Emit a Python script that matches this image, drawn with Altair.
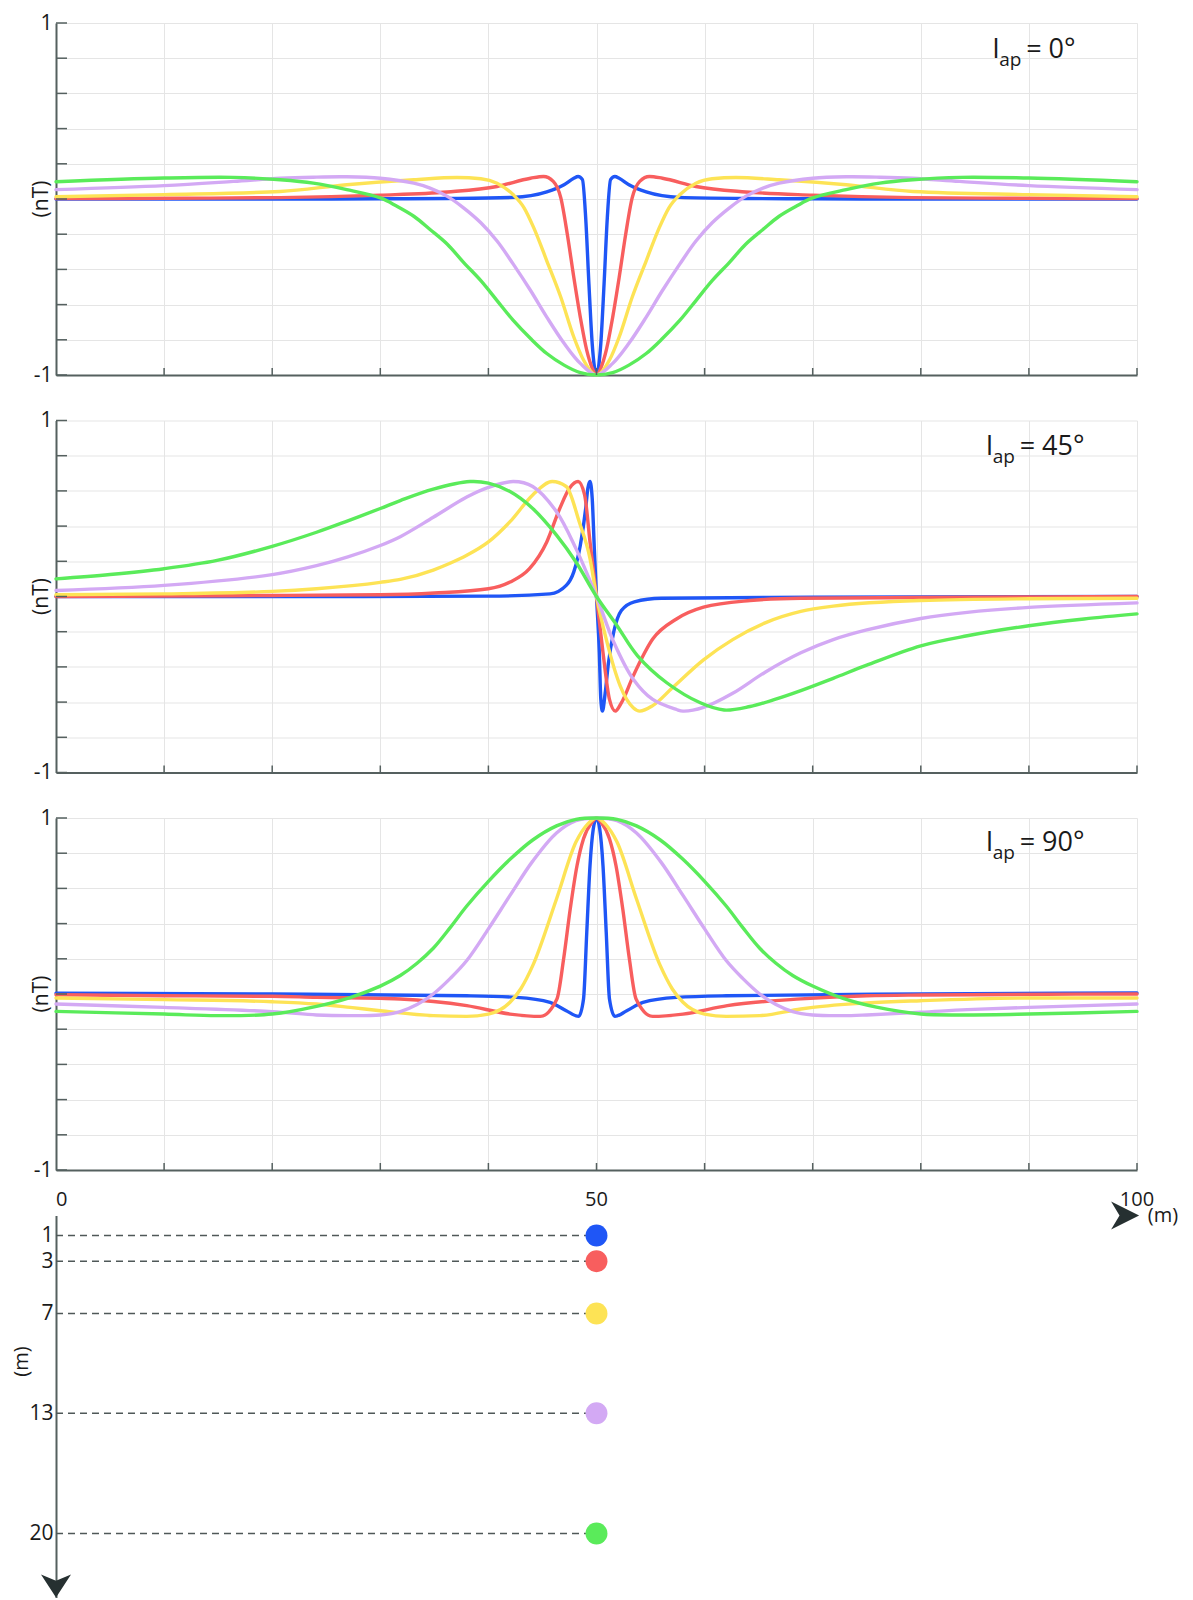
import altair as alt
import pandas as pd

FONT = "Open Sans"
DEPTHS = [1, 3, 7, 13, 20]
DEPTH_LABELS = ["1", "3", "7", "13", "20"]
COLORS = ["#1f56f6", "#f85e5e", "#fde355", "#d3a9f4", "#5aeb5a"]
CURVE_INTERP = ["monotone", "monotone", "monotone", "catmull-rom", "catmull-rom"]
INCLINATION_LABELS = ["0°", "45°", "90°"]
X_GRID = [0, 10, 20, 30, 40, 50, 60, 70, 80, 90, 100]
X_TICKS = [10, 20, 30, 40, 50, 60, 70, 80, 90, 100]
Y_GRID = [-1, -0.8, -0.6, -0.4, -0.2, 0, 0.2, 0.4, 0.6, 0.8, 1]
SECTION_X_LABELS = ["50", "100"]
SECTION_X_VALUES = [50, 100]
DOT_X = [50, 50, 50, 50, 50]

# ---------------- I_ap = 0 deg ----------------
i0_d1_x = [0, 10, 20, 30, 36.2, 42.3, 45.4, 47, 47.9, 48.3, 48.7, 49, 49.3, 49.6, 50,
           50.4, 50.7, 51, 51.3, 51.7, 52.1, 53, 54.6, 57.7, 63.8, 70, 80, 90, 100]
i0_d1_y = [0, 0, 0, 0.001, 0.003, 0.009, 0.04, 0.081, 0.118, 0.128, 0.11, -0.107, -0.483, -0.82, -1,
           -0.82, -0.483, -0.107, 0.11, 0.128, 0.118, 0.081, 0.04, 0.009, 0.003, 0.001, 0, 0, 0]
i0_d3_x = [0, 10, 20.75, 30, 36.2, 40.8, 43.9, 45.1, 46.0, 46.7, 47.3, 47.9, 48.5, 49.1, 49.6, 50,
           50.4, 50.9, 51.5, 52.1, 52.7, 53.3, 54.0, 54.9, 56.1, 59.2, 63.8, 70, 79.25, 90, 100]
i0_d3_y = [0.002, 0.004, 0.008, 0.022, 0.04, 0.071, 0.118, 0.128, 0.1, 0.006, -0.2, -0.445, -0.671, -0.86, -0.96, -1,
           -0.96, -0.86, -0.671, -0.445, -0.2, 0.006, 0.1, 0.128, 0.118, 0.071, 0.04, 0.022, 0.008, 0.004, 0.002]
i0_d7_x = [0, 10, 20.75, 26.9, 33.1, 37.1, 39.3, 40.8, 42.3, 43.3, 44.2, 45.4, 46.7, 47.9, 48.8, 50,
           51.2, 52.1, 53.3, 54.6, 55.8, 56.7, 57.7, 59.2, 60.7, 62.9, 66.9, 73.1, 79.25, 90, 100]
i0_d7_y = [0.013, 0.025, 0.043, 0.081, 0.109, 0.122, 0.115, 0.09, 0.024, -0.05, -0.164, -0.351, -0.558, -0.784, -0.915, -1,
           -0.915, -0.784, -0.558, -0.351, -0.164, -0.05, 0.024, 0.09, 0.115, 0.122, 0.109, 0.081, 0.043, 0.025, 0.013]
i0_d13_x = [0, 10, 16.4, 20.75, 23.8, 26.9, 30, 33.1, 34.6, 36.2, 37.7, 39.3, 40.8, 42.3, 43.9, 45.4, 47, 48.5, 50,
            51.5, 53, 54.6, 56.1, 57.7, 59.2, 60.7, 62.3, 63.8, 65.4, 66.9, 70, 73.1, 76.2, 79.25, 83.6, 90, 100]
i0_d13_y = [0.053, 0.076, 0.1, 0.118, 0.124, 0.126, 0.118, 0.09, 0.062, 0.015, -0.05, -0.135, -0.239, -0.37, -0.52, -0.671, -0.82, -0.934, -1,
            -0.934, -0.82, -0.671, -0.52, -0.37, -0.239, -0.135, -0.05, 0.015, 0.062, 0.09, 0.118, 0.126, 0.124, 0.118, 0.1, 0.076, 0.053]
i0_d20_x = [0, 10, 16.4, 20.75, 23.8, 26.9, 30, 31.5, 33.1, 34.6, 36.2, 37.7, 39.3, 40.8, 42.3, 43.9, 45.4, 47, 48.5, 50,
            51.5, 53, 54.6, 56.1, 57.7, 59.2, 60.7, 62.3, 63.8, 65.4, 66.9, 68.5, 70, 73.1, 76.2, 79.25, 83.6, 90, 100]
i0_d20_y = [0.098, 0.119, 0.123, 0.109, 0.09, 0.053, 0.006, -0.04, -0.098, -0.173, -0.257, -0.36, -0.464, -0.577, -0.69, -0.793, -0.878, -0.944, -0.987, -1,
            -0.987, -0.944, -0.878, -0.793, -0.69, -0.577, -0.464, -0.36, -0.257, -0.173, -0.098, -0.04, 0.006, 0.053, 0.09, 0.109, 0.123, 0.119, 0.098]

# ---------------- I_ap = 45 deg ----------------
i45_d1_x = [0, 20, 40, 45.7, 47.2, 47.9, 48.5, 49.0, 49.2, 49.4, 49.6, 49.8, 50, 50.26, 50.4,
            50.55, 50.8, 51.1, 51.6, 52.3, 53.5, 56, 70, 100]
i45_d1_y = [0, 0, 0.002, 0.015, 0.063, 0.14, 0.29, 0.5, 0.615, 0.653, 0.56, 0.27, 0, -0.318, -0.585,
            -0.651, -0.55, -0.38, -0.2, -0.08, -0.03, -0.01, -0.004, 0]
i45_d3_x = [0, 10, 20, 30, 35, 40, 42, 43.8, 45.4, 46.6, 47.5, 48.3, 48.9, 49.4, 50,
            50.6, 51.2, 51.74, 52.3, 53.4, 55.2, 57.4, 59.9, 64.2, 68.9, 80, 100]
i45_d3_y = [0, 0.002, 0.006, 0.01, 0.02, 0.044, 0.082, 0.158, 0.31, 0.5, 0.615, 0.653, 0.577, 0.31, 0,
            -0.318, -0.585, -0.651, -0.604, -0.451, -0.242, -0.128, -0.061, -0.023, -0.01, -0.006, 0]
i45_d7_x = [0, 10, 20, 24.1, 30, 31.85, 34.9, 36.5, 38, 40, 42, 44.1, 45.9, 47.2, 48.4, 49.4, 50,
            50.9, 52.2, 53.4, 54, 55.2, 57, 59.9, 62.6, 65.6, 68.9, 71.9, 80, 90, 100]
i45_d7_y = [0.01, 0.015, 0.029, 0.044, 0.08, 0.097, 0.15, 0.19, 0.234, 0.31, 0.425, 0.577, 0.653, 0.625, 0.425, 0.215, 0,
            -0.242, -0.509, -0.632, -0.651, -0.62, -0.52, -0.36, -0.245, -0.15, -0.085, -0.055, -0.023, -0.013, -0.01]
i45_d13_x = [0, 10, 20, 24.1, 27, 30, 31.85, 34.9, 38, 40, 42.3, 44.1, 46.3, 48.1, 50, 51.6,
             53.4, 55.2, 57.4, 58, 59.9, 62.6, 65.6, 68.9, 71.9, 75, 80, 84.3, 90, 100]
i45_d13_y = [0.034, 0.063, 0.124, 0.175, 0.225, 0.29, 0.34, 0.45, 0.565, 0.62, 0.653, 0.625, 0.482, 0.272, 0, -0.26,
             -0.47, -0.585, -0.642, -0.651, -0.63, -0.55, -0.43, -0.32, -0.245, -0.19, -0.125, -0.09, -0.062, -0.036]
i45_d20_x = [0, 5, 10, 14.9, 20, 24.1, 27, 30, 31.85, 34.9, 38.3, 40, 42, 44.1, 46.3, 48.1, 50,
             51.9, 53.8, 56.5, 59.6, 61.8, 64.2, 66.5, 68.9, 71.9, 75, 80, 84.3, 90, 95.1, 100]
i45_d20_y = [0.1, 0.125, 0.158, 0.205, 0.285, 0.365, 0.43, 0.5, 0.545, 0.61, 0.653, 0.644, 0.596, 0.5, 0.349, 0.196, 0,
             -0.166, -0.337, -0.49, -0.604, -0.645, -0.625, -0.585, -0.535, -0.465, -0.39, -0.28, -0.223, -0.166, -0.128, -0.099]

# ---------------- I_ap = 90 deg ----------------
i90_d1_x = [0, 20, 38, 42.6, 45.7, 47.2, 48.35, 48.8, 49.1, 49.4, 49.7, 50, 50.3, 50.6, 50.9,
            51.2, 51.7, 52.8, 54.3, 57.4, 62, 80, 100]
i90_d1_y = [0.004, 0.0, -0.01, -0.019, -0.047, -0.095, -0.127, -0.028, 0.351, 0.73, 0.938, 1.0, 0.938, 0.73, 0.351,
            -0.028, -0.127, -0.095, -0.047, -0.019, -0.01, 0.0, 0.006]
i90_d3_x = [0, 10, 20, 24.1, 30, 31.85, 38, 42, 44.8, 46.34, 46.96, 47.57, 48.2, 48.8, 49.58, 50,
            50.42, 51.2, 51.8, 52.43, 53.04, 53.66, 55.2, 58, 62.1, 68.9, 75, 80, 100]
i90_d3_y = [-0.004, -0.01, -0.013, -0.019, -0.025, -0.028, -0.066, -0.114, -0.127, -0.028, 0.2, 0.483, 0.73, 0.882, 0.976, 1.0,
            0.976, 0.882, 0.73, 0.483, 0.2, -0.028, -0.127, -0.114, -0.066, -0.028, -0.01, -0.006, 0.0]
i90_d7_x = [0, 10, 20, 24.1, 27.2, 30, 34.9, 38, 40, 42, 43, 44.1, 46.3, 48.1, 49.2, 50,
            50.8, 51.9, 53.7, 55.9, 57, 58, 60, 62, 65.1, 68.9, 70, 75, 80, 90, 100]
i90_d7_y = [-0.023, -0.032, -0.044, -0.057, -0.076, -0.095, -0.123, -0.127, -0.114, -0.047, 0.03, 0.161, 0.54, 0.863, 0.967, 1.0,
            0.967, 0.863, 0.54, 0.161, 0.03, -0.047, -0.114, -0.127, -0.123, -0.085, -0.076, -0.051, -0.038, -0.023, -0.023]
i90_d13_x = [0, 10, 20, 24.1, 27.2, 30, 31.85, 33.4, 34.9, 36.5, 38, 40, 42, 44.1, 46.3, 48.1, 50,
             51.9, 53.7, 55.9, 58, 60, 62, 63.5, 65.1, 66.6, 68.15, 70, 72.8, 75, 80, 84.3, 90, 100]
i90_d13_y = [-0.057, -0.076, -0.1, -0.119, -0.123, -0.119, -0.1, -0.06, 0.0, 0.09, 0.19, 0.37, 0.56, 0.755, 0.915, 0.985, 1.0,
             0.985, 0.915, 0.755, 0.56, 0.37, 0.19, 0.09, 0.0, -0.06, -0.1, -0.119, -0.123, -0.119, -0.104, -0.089, -0.076, -0.057]
i90_d20_x = [0, 10, 14.9, 20, 24.1, 27.2, 30, 31.85, 33.4, 34.9, 36.5, 38, 40, 42, 44.1, 46.3, 48.1, 50,
             51.9, 53.7, 55.9, 58, 60, 62, 63.5, 65.1, 66.6, 68.15, 70, 72.8, 75.9, 80, 84.3, 90, 100]
i90_d20_y = [-0.099, -0.114, -0.123, -0.114, -0.07, -0.02, 0.045, 0.105, 0.175, 0.26, 0.38, 0.5, 0.64, 0.765, 0.875, 0.955, 0.992, 1.0,
             0.992, 0.955, 0.875, 0.765, 0.64, 0.5, 0.38, 0.26, 0.175, 0.105, 0.045, -0.025, -0.075, -0.114, -0.119, -0.114, -0.099]

CURVES = [
    [(i0_d1_x, i0_d1_y), (i0_d3_x, i0_d3_y), (i0_d7_x, i0_d7_y), (i0_d13_x, i0_d13_y), (i0_d20_x, i0_d20_y)],
    [(i45_d1_x, i45_d1_y), (i45_d3_x, i45_d3_y), (i45_d7_x, i45_d7_y), (i45_d13_x, i45_d13_y), (i45_d20_x, i45_d20_y)],
    [(i90_d1_x, i90_d1_y), (i90_d3_x, i90_d3_y), (i90_d7_x, i90_d7_y), (i90_d13_x, i90_d13_y), (i90_d20_x, i90_d20_y)],
]
TITLE_X = [86.6, 86.0, 86.0]
TITLE_Y = [0.80, 0.805, 0.81]

# ---------------- styling ----------------
W = 1081
H = 352
SEC_H = 382
AX = "#55605f"
GRIDC = "#e5e5e5"
TXT = "#1a1a1a"
ARROW = "#263031"

xscale = alt.Scale(domain=[0, 100], nice=False, zero=False)
yscale = alt.Scale(domain=[-1, 1], nice=False, zero=False)

X = alt.X("x:Q", scale=xscale,
          axis=alt.Axis(values=X_GRID, labels=False, ticks=False, grid=True, gridColor=GRIDC,
                        gridWidth=1, domainColor=AX, domainWidth=2, title=None))
Y = alt.Y("y:Q", scale=yscale,
          axis=alt.Axis(values=Y_GRID,
                        labelExpr="datum.value == 1 ? '1' : (datum.value == -1 ? '-1' : '')",
                        labelFont=FONT, labelFontSize=21, labelColor=TXT, labelPadding=4,
                        labelOverlap=False, ticks=False, grid=True, gridColor=GRIDC, gridWidth=1,
                        domainColor=AX, domainWidth=2, title=None))


def panel(k):
    layers = []
    ytick_df = pd.DataFrame({"y": Y_GRID})
    xtick_df = pd.DataFrame({"x": X_TICKS})
    for (xs, ys), col, interp in zip(CURVES[k], COLORS, CURVE_INTERP):
        df = pd.DataFrame({"x": xs, "y": ys})
        layers.append(
            alt.Chart(df).mark_line(color=col, strokeWidth=3.4, interpolate=interp,
                                    strokeCap="round", strokeJoin="round").encode(x=X, y=Y))
    layers.append(alt.Chart(ytick_df).mark_rule(color=AX, strokeWidth=1.5).encode(
        x=alt.value(0), x2=alt.value(11), y=Y))
    layers.append(alt.Chart(xtick_df).mark_rule(color=AX, strokeWidth=1.5).encode(
        x=X, y=alt.value(H), y2=alt.value(H - 7)))
    ann = pd.DataFrame({"x": [TITLE_X[k]], "y": [TITLE_Y[k]]})
    layers.append(alt.Chart(ann).mark_text(text="I", font=FONT, fontSize=27, align="left",
                                           baseline="alphabetic", color=TXT).encode(x=X, y=Y))
    layers.append(alt.Chart(ann).mark_text(text="ap", font=FONT, fontSize=19, align="left",
                                           baseline="alphabetic", color=TXT, dx=7, dy=8).encode(x=X, y=Y))
    layers.append(alt.Chart(ann).mark_text(text="= " + INCLINATION_LABELS[k], font=FONT, fontSize=27,
                                           align="left", baseline="alphabetic", color=TXT,
                                           dx=34).encode(x=X, y=Y))
    unit = pd.DataFrame({"y": [0]})
    layers.append(alt.Chart(unit).mark_text(text="(nT)", font=FONT, fontSize=21, angle=270,
                                            align="center", baseline="middle", color=TXT).encode(
        x=alt.value(-14), y=Y))
    return alt.layer(*layers).properties(width=W, height=H)


# ---------------- depth section ----------------
sec_y = alt.Scale(domain=[0, 1, 3, 7, 13, 20, 23.7], range=[0, 20, 45.7, 98, 197.7, 318, SEC_H])
SX = alt.X("x:Q", scale=xscale,
           axis=alt.Axis(orient="top", labels=False, ticks=False, grid=False, domainColor=AX,
                         domainWidth=2, title=None))
SY = alt.Y("d:Q", scale=sec_y,
           axis=alt.Axis(values=DEPTHS, format="d", labelFont=FONT, labelFontSize=21, labelColor=TXT,
                         labelPadding=3, labelOverlap=False, ticks=False, grid=False, domainColor=AX,
                         domainWidth=2, title=None))

sec_df = pd.DataFrame({"x": DOT_X, "x0": [0] * len(DEPTHS), "d": DEPTHS, "label": DEPTH_LABELS})
dashes = alt.Chart(sec_df).mark_rule(color="#4f5858", strokeWidth=1.6, strokeDash=[7, 5]).encode(
    x=alt.X("x0:Q", scale=xscale, axis=None), x2="x:Q", y=SY)
dots = alt.Chart(sec_df).mark_circle(size=480, opacity=1).encode(
    x=SX, y=SY,
    color=alt.Color("label:N", scale=alt.Scale(domain=DEPTH_LABELS, range=COLORS), legend=None))
lab_df = pd.DataFrame({"x": SECTION_X_VALUES, "t": SECTION_X_LABELS})
top_labels = alt.Chart(lab_df).mark_text(font=FONT, fontSize=20, align="center", baseline="middle",
                                         color=TXT).encode(x=SX, y=alt.value(-16), text="t:N")
zero_df = pd.DataFrame({"x": [0], "t": ["0"]})
zero_label = alt.Chart(zero_df).mark_text(font=FONT, fontSize=20, align="left", baseline="middle",
                                          color=TXT).encode(x=SX, y=alt.value(-16), text="t:N")
m_right = alt.Chart(pd.DataFrame({"x": [100]})).mark_text(
    text="(m)", font=FONT, fontSize=20, align="center", baseline="middle", color=TXT, dx=26
).encode(x=SX, y=alt.value(0))
m_left = alt.Chart(pd.DataFrame({"d": [0]})).mark_text(
    text="(m)", font=FONT, fontSize=20, angle=270, align="center", baseline="middle", color=TXT
).encode(x=alt.value(-34), y=alt.value(146))
arrow_right = alt.Chart(pd.DataFrame({"x": [98.9], "d": [0]})).mark_point(
    shape="M1,0L-1,-1L-0.4,0L-1,1Z", filled=True, size=784, opacity=1, color=ARROW
).encode(x=SX, y=SY)
arrow_down = alt.Chart(pd.DataFrame({"x": [0]})).mark_point(
    shape="M0,0.77L-1,-0.77L0,-0.35L1,-0.77Z", filled=True, size=900, opacity=1, color=ARROW
).encode(x=SX, y=alt.value(SEC_H - 11.5))

section = alt.layer(dashes, dots, top_labels, zero_label, m_right, m_left, arrow_right,
                    arrow_down).properties(width=W, height=SEC_H)

chart = alt.vconcat(panel(0), panel(1), panel(2), section, spacing=45.5, bounds="flush").properties(
    padding={"left": 4, "top": 4, "right": 4, "bottom": 0}
).configure(font=FONT).configure_view(stroke=None)

chart.save("out.html", embed_options={"renderer": "svg", "actions": False})
